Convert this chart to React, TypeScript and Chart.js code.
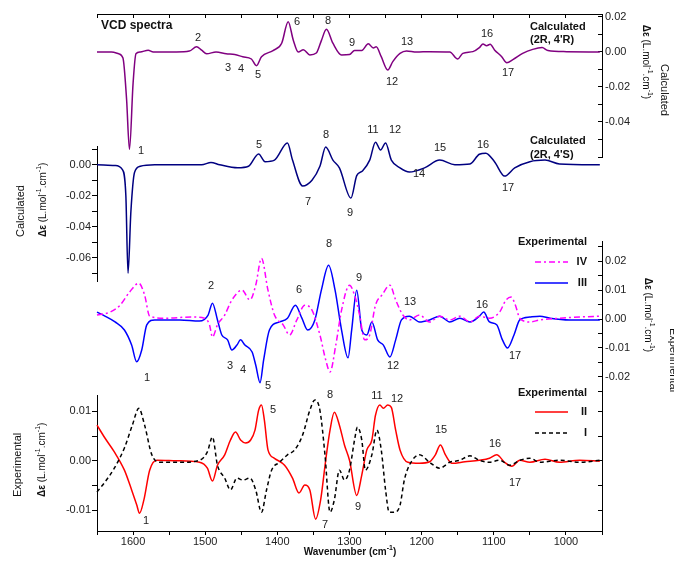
import { useEffect, useRef } from 'react';
import { Chart, registerables } from 'chart.js';

Chart.register(...registerables);

const FONT = '"Liberation Sans", Arial, Helvetica, sans-serif';
const W = 674;
const H = 562;
const PLOT_LEFT = 97;
const PLOT_RIGHT = 602;
const PLOT_BOTTOM = 531;
const LEFT_AXIS_W = 60;
const RIGHT_AXIS_W = 50;
const BOTTOM_AXIS_H = 20;

// ---------------- x axis (wavenumber, cm-1) ----------------
const xTickValues = [1650, 1600, 1550, 1500, 1450, 1400, 1350, 1300, 1250, 1200, 1150, 1100, 1050, 1000, 950];
const xTickLabels = [1600, 1500, 1400, 1300, 1200, 1100, 1000];

// ---------------- Panel 1: Calculated (2R, 4'R) ----------------
const calcRRWn = [1650, 1630, 1620, 1614, 1609, 1605, 1600, 1596, 1590, 1579, 1572, 1540, 1522, 1512, 1505, 1498, 1485, 1471, 1459, 1448, 1436, 1429, 1422, 1406, 1394, 1385, 1378, 1371, 1364, 1355, 1346, 1339, 1332, 1323, 1311, 1300, 1293, 1283, 1274, 1267, 1263, 1256, 1247, 1240, 1230, 1221, 1207, 1189, 1161, 1150, 1143, 1129, 1120, 1115, 1110, 1105, 1099, 1089, 1082, 1073, 1060, 1046, 1033, 1025, 999, 953];
const calcRRDe = [0, 0, -0.001, -0.0035, -0.027, -0.0556, -0.018, -0.001, 0, 0.001, 0, 0, 0.0005, 0.003, 0.001, -0.001, 0, -0.001, -0.0015, -0.0027, -0.004, -0.0078, -0.0027, 0.0008, 0.005, 0.0173, 0.0069, 0, 0.0013, -0.0017, -0.0006, 0.0065, 0.013, 0.005, -0.0017, -0.0015, 0.0009, 0.0009, 0.0047, 0.0023, 0.003, -0.0027, -0.0103, -0.0055, -0.0008, 0.0006, 0, 0.0002, 0, -0.004, -0.0008, 0.0002, 0.0025, 0.0046, 0.0036, 0.0044, 0.0012, -0.0027, -0.0061, -0.0042, -0.0008, 0.0015, 0.0025, 0.0008, 0.0002, 0];

// ---------------- Panel 2: Calculated (2R, 4'S) ----------------
const calcRSWn = [1650, 1625, 1615, 1610, 1607, 1603, 1598, 1590, 1570, 1505, 1492, 1480, 1455, 1440, 1426, 1417, 1404, 1386, 1379, 1365, 1352, 1341, 1333, 1323, 1314, 1298, 1290, 1282, 1272, 1264, 1257, 1250, 1242, 1230, 1217, 1196, 1175, 1154, 1133, 1120, 1111, 1099, 1085, 1071, 1050, 1029, 1009, 953];
const calcRSDe = [0, -0.0005, -0.003, -0.02, -0.07, -0.03, -0.005, -0.001, 0, 0, 0.0015, 0, -0.002, -0.001, 0.007, 0.002, 0.003, 0.014, 0.003, -0.0137, -0.01, -0.001, 0.0114, 0.003, -0.002, -0.0215, -0.007, -0.004, 0.003, 0.0146, 0.0095, 0.014, 0.003, -0.002, -0.0047, -0.002, 0.003, 0, 0.0005, 0.0068, 0.0075, 0.002, -0.0073, -0.002, 0.002, 0.003, 0.0005, 0];

// ---------------- Panel 3: Experimental IV and III ----------------
const expIVWn = [1650, 1632, 1618, 1605, 1592, 1584, 1577, 1556, 1520, 1501, 1494, 1490, 1483, 1473, 1463, 1449, 1438, 1430, 1422, 1413, 1404, 1392, 1383, 1373, 1362, 1352, 1341, 1333, 1327, 1319, 1311, 1300, 1293, 1286, 1279, 1272, 1264, 1255, 1244, 1236, 1226, 1217, 1203, 1189, 1175, 1161, 1147, 1133, 1120, 1106, 1092, 1083, 1076, 1070, 1064, 1050, 1036, 1008, 981, 953];
const expIVDe = [0.0014, 0.0024, 0.0048, 0.0093, 0.0124, 0.0083, 0.001, 0.0003, 0.0007, 0.0003, -0.002, -0.0062, -0.002, 0.0014, 0.0066, 0.01, 0.0066, 0.0117, 0.021, 0.01, 0.0014, -0.002, -0.0055, -0.0003, 0.0048, 0.0031, -0.0055, -0.0141, -0.0183, -0.009, 0.0031, 0.0117, 0.0083, 0.0014, -0.0072, -0.0055, 0.0048, 0.0083, 0.0117, 0.0066, 0.0014, -0.0003, 0.0014, -0.001, 0.001, -0.0003, 0.001, -0.001, 0.001, 0.0003, 0.0024, 0.0066, 0.0076, 0.0048, 0.0003, -0.001, -0.0003, 0.0003, 0.0007, 0.001];

const expIIIWn = [1650, 1639, 1625, 1612, 1602, 1595, 1588, 1581, 1570, 1535, 1508, 1496, 1490, 1483, 1477, 1469, 1463, 1456, 1451, 1445, 1435, 1430, 1424, 1419, 1411, 1397, 1386, 1375, 1366, 1358, 1348, 1339, 1329, 1320, 1311, 1302, 1297, 1290, 1283, 1276, 1269, 1261, 1253, 1244, 1236, 1228, 1217, 1203, 1189, 1175, 1161, 1147, 1133, 1120, 1114, 1106, 1096, 1088, 1081, 1072, 1064, 1050, 1036, 1022, 995, 953];
const expIIIDe = [0.0024, 0.001, -0.001, -0.0038, -0.009, -0.0148, -0.0107, -0.002, -0.0003, -0.0003, -0.0007, 0.0014, 0.0055, -0.0003, -0.0055, -0.0072, -0.0107, -0.009, -0.0072, -0.009, -0.0114, -0.0159, -0.022, -0.0141, -0.0038, -0.001, 0.0003, 0.0048, 0.0003, -0.0038, -0.0003, 0.01, 0.0186, 0.01, -0.0038, -0.0134, -0.0038, 0.01, -0.0038, -0.0055, -0.001, -0.0072, -0.009, -0.0131, -0.0072, -0.0003, 0.001, -0.001, -0.0003, 0.001, -0.001, 0.0003, -0.001, 0.001, 0.0024, -0.001, -0.002, -0.0072, -0.01, -0.0055, -0.0003, 0.0007, 0.001, 0.0003, -0.0003, -0.0003];

// ---------------- Panel 4: Experimental II and I ----------------
const expIIWn = [1650, 1639, 1626, 1612, 1602, 1595, 1591, 1585, 1577, 1567, 1540, 1508, 1497, 1490, 1483, 1473, 1465, 1458, 1451, 1444, 1437, 1431, 1426, 1422, 1418, 1413, 1404, 1390, 1379, 1370, 1362, 1355, 1347, 1340, 1333, 1327, 1321, 1314, 1307, 1300, 1290, 1283, 1276, 1269, 1264, 1258, 1253, 1247, 1242, 1236, 1230, 1219, 1203, 1189, 1181, 1174, 1167, 1158, 1140, 1120, 1106, 1096, 1085, 1075, 1064, 1050, 1029, 1009, 981, 953];
const expIIDe = [0.0072, 0.0046, 0.0018, -0.0019, -0.0059, -0.0089, -0.0106, -0.0079, -0.0019, 0.0001, 0, -0.0003, -0.0015, -0.0041, -0.0009, 0.0012, 0.0042, 0.0058, 0.0042, 0.0036, 0.0042, 0.0062, 0.0102, 0.0113, 0.0082, 0.0022, 0.0005, -0.0009, -0.0035, -0.0065, -0.0049, -0.0059, -0.0118, -0.0079, 0.0001, 0.0062, 0.0098, 0.0072, 0.0032, 0.0001, -0.007, -0.0029, 0.0022, 0.0042, 0.0092, 0.0113, 0.0106, 0.0113, 0.0108, 0.0062, 0.0022, -0.0003, -0.0005, -0.0002, 0.0012, 0.0032, 0.0012, -0.0005, -0.0002, 0.0001, 0.0005, 0.0012, -0.0003, -0.0011, 0.0001, -0.0003, 0.0003, -0.0003, 0.0001, -0.0001];

const expIWn = [1650, 1639, 1626, 1612, 1601, 1592, 1584, 1574, 1563, 1535, 1508, 1497, 1490, 1483, 1473, 1465, 1456, 1448, 1438, 1430, 1422, 1415, 1408, 1397, 1386, 1376, 1365, 1355, 1348, 1341, 1334, 1327, 1321, 1314, 1307, 1300, 1293, 1289, 1283, 1278, 1269, 1262, 1256, 1250, 1245, 1238, 1230, 1224, 1217, 1203, 1189, 1175, 1161, 1147, 1133, 1120, 1106, 1092, 1078, 1064, 1050, 1036, 1009, 981, 953];
const expIDe = [-0.0063, -0.0043, -0.0015, 0.0026, 0.0072, 0.0106, 0.0072, 0.0012, -0.0003, -0.0003, 0.0001, 0.0018, 0.0048, -0.0009, -0.0035, -0.0059, -0.0035, -0.0039, -0.0035, -0.0059, -0.0104, -0.0059, -0.0019, -0.0003, 0.0012, 0.0022, 0.0052, 0.0102, 0.0123, 0.0102, 0.0012, -0.0104, -0.0079, -0.0019, -0.0039, -0.0019, 0.0042, 0.0068, 0.0042, -0.0019, 0.0012, 0.0062, 0.0022, -0.0059, -0.0104, -0.0104, -0.009, -0.0039, -0.0009, 0.0012, -0.0003, -0.0015, -0.0003, 0.0001, 0.001, 0.0001, -0.0003, 0.0001, -0.0009, 0.0001, 0.0005, -0.0003, 0.0001, -0.0003, 0.0001];

// ---------------- y tick values ----------------
const p1Ticks = [0.02, 0.01, 0, -0.01, -0.02, -0.03, -0.04, -0.05, -0.06];
const p1Labels = [0.02, 0, -0.02, -0.04];
const p2Ticks = [0.01, 0, -0.01, -0.02, -0.03, -0.04, -0.05, -0.06, -0.07];
const p2Labels = [0, -0.02, -0.04, -0.06];
const p3Ticks = [0.025, 0.02, 0.015, 0.01, 0.005, 0, -0.005, -0.01, -0.015, -0.02, -0.025];
const p3Labels = [0.02, 0.01, 0, -0.01, -0.02];
const p4Ticks = [0.01, 0.005, 0, -0.005, -0.01];
const p4Labels = [0.01, 0, -0.01];

// ---------------- annotation texts ----------------
const peakNumbers: [string, number, number][] = [
  ['1', 141, 151], ['2', 198, 38], ['3', 228, 68], ['4', 241, 69], ['5', 258, 75], ['6', 297, 22], ['8', 328, 21], ['9', 352, 43], ['12', 392, 82], ['13', 407, 42], ['16', 487, 34], ['17', 508, 73],
  ['5', 259, 145], ['8', 326, 135], ['11', 373, 130], ['12', 395, 130], ['15', 440, 148], ['16', 483, 145], ['7', 308, 202], ['9', 350, 213], ['14', 419, 174], ['17', 508, 188],
  ['2', 211, 286], ['6', 299, 290], ['8', 329, 244], ['9', 359, 278], ['13', 410, 302], ['16', 482, 305], ['1', 147, 378], ['3', 230, 366], ['4', 243, 370], ['5', 268, 386], ['12', 393, 366], ['17', 515, 356],
  ['5', 273, 410], ['8', 330, 395], ['11', 377, 396], ['12', 397, 399], ['15', 441, 430], ['16', 495, 444], ['17', 515, 483], ['1', 146, 521], ['7', 325, 525], ['9', 358, 507],
];

type Seg = { t: string; b?: boolean; sup?: boolean };
const deltaTitle: Seg[] = [{ t: 'Δε', b: true }, { t: ' (L.mol' }, { t: '-1', sup: true }, { t: '.cm' }, { t: '-1', sup: true }, { t: ')' }];

function drawRich(ctx: CanvasRenderingContext2D, segs: Seg[], x: number, y: number, rot: number, align: 'left' | 'center' | 'right', size: number, color = '#111') {
  ctx.save();
  ctx.translate(x, y);
  ctx.rotate(rot);
  const font = (s: Seg) => `${s.b ? 'bold ' : ''}${s.sup ? Math.round(size * 0.7) : size}px ${FONT}`;
  let total = 0;
  for (const s of segs) { ctx.font = font(s); total += ctx.measureText(s.t).width; }
  let cx = align === 'left' ? 0 : align === 'center' ? -total / 2 : -total;
  ctx.textBaseline = 'middle';
  ctx.textAlign = 'left';
  ctx.fillStyle = color;
  for (const s of segs) {
    ctx.font = font(s);
    ctx.fillText(s.t, cx, s.sup ? -size * 0.38 : 0);
    cx += ctx.measureText(s.t).width;
  }
  ctx.restore();
}

const fmt = (v: number) => (Math.abs(v) < 1e-12 ? '0.00' : v.toFixed(2));
const isIn = (arr: number[], v: number) => arr.some((m) => Math.abs(m - v) < 1e-9);
const pts = (xs: number[], ys: number[]) => xs.map((x, i) => ({ x, y: ys[i] }));

function yAxis(position: 'left' | 'right', min: number, max: number, ticks: number[], labels: number[], showLabels: boolean) {
  const left = position === 'left';
  return {
    type: 'linear',
    position,
    min,
    max,
    afterBuildTicks: (s: any) => { s.ticks = ticks.map((v) => ({ value: v })); },
    afterFit: (s: any) => { s.width = left ? LEFT_AXIS_W : RIGHT_AXIS_W; },
    grid: { drawOnChartArea: false, drawTicks: true, tickLength: left ? 5 : -4, tickColor: '#000', tickWidth: 1 },
    border: { display: true, color: '#000', width: 1 },
    ticks: {
      display: showLabels,
      autoSkip: false,
      padding: left ? 1 : 7,
      color: '#222',
      font: { size: 11, family: FONT },
      callback: (v: number) => (isIn(labels, v) ? fmt(v) : ''),
    },
  };
}

function xAxis(kind: 'top' | 'bottom' | 'none') {
  return {
    type: 'linear',
    reverse: true,
    min: 950,
    max: 1650,
    display: kind !== 'none',
    position: kind === 'top' ? 'top' : 'bottom',
    afterBuildTicks: (s: any) => { s.ticks = xTickValues.map((v) => ({ value: v })); },
    afterFit: (s: any) => { s.height = kind === 'bottom' ? BOTTOM_AXIS_H : 0; },
    grid: { drawOnChartArea: false, drawTicks: true, tickLength: kind === 'top' ? -4 : 4, tickColor: '#000' },
    border: { display: true, color: '#000', width: 1 },
    ticks: {
      display: kind === 'bottom',
      autoSkip: false,
      maxRotation: 0,
      padding: 0,
      color: '#222',
      font: { size: 11, family: FONT },
      callback: (v: number) => (isIn(xTickLabels, v) ? String(v) : ''),
    },
  };
}

const textPlugin = {
  id: 'texts',
  afterDraw(chart: any) {
    const ctx: CanvasRenderingContext2D = chart.ctx;
    ctx.save();
    ctx.fillStyle = '#222';
    ctx.textAlign = 'center';
    ctx.textBaseline = 'middle';
    ctx.font = `11px ${FONT}`;
    for (const [t, x, y] of peakNumbers) ctx.fillText(t, x, y);

    const txt = (t: string, x: number, y: number, align: CanvasTextAlign, bold: boolean, size = 11) => {
      ctx.font = `${bold ? 'bold ' : ''}${size}px ${FONT}`;
      ctx.textAlign = align;
      ctx.fillStyle = '#111';
      ctx.fillText(t, x, y);
    };
    txt('VCD spectra', 101, 26, 'left', true, 12);
    txt('Calculated', 530, 27, 'left', true);
    txt("(2R, 4'R)", 530, 40, 'left', true);
    txt('Calculated', 530, 141, 'left', true);
    txt("(2R, 4'S)", 530, 155, 'left', true);
    txt('Experimental', 587, 242, 'right', true);
    txt('IV', 587, 262, 'right', true);
    txt('III', 587, 283, 'right', true);
    txt('Experimental', 587, 393, 'right', true);
    txt('II', 587, 412, 'right', true);
    txt('I', 587, 433, 'right', true);

    const seg = (x1: number, x2: number, y: number, color: string, dash: number[]) => {
      ctx.save();
      ctx.strokeStyle = color;
      ctx.lineWidth = 1.5;
      ctx.setLineDash(dash);
      ctx.beginPath();
      ctx.moveTo(x1, y);
      ctx.lineTo(x2, y);
      ctx.stroke();
      ctx.restore();
    };
    seg(535, 568, 262, '#ff00ff', [6, 3, 2, 3]);
    seg(535, 568, 283, '#0000ff', []);
    seg(535, 568, 412, '#ff0000', []);
    seg(535, 568, 433, '#000000', [4, 3]);

    // axis titles
    drawRich(ctx, deltaTitle, 646, 62, Math.PI / 2, 'center', 10);
    drawRich(ctx, [{ t: 'Calculated' }], 664, 90, Math.PI / 2, 'center', 11);
    drawRich(ctx, [{ t: 'Calculated' }], 21, 237, -Math.PI / 2, 'left', 11);
    drawRich(ctx, deltaTitle, 43, 237, -Math.PI / 2, 'left', 10);
    drawRich(ctx, deltaTitle, 648, 315, Math.PI / 2, 'center', 10);
    drawRich(ctx, [{ t: 'Experimental' }], 673, 360, Math.PI / 2, 'center', 11);
    drawRich(ctx, [{ t: 'Experimental' }], 18, 497, -Math.PI / 2, 'left', 11);
    drawRich(ctx, deltaTitle, 42, 497, -Math.PI / 2, 'left', 10);
    drawRich(ctx, [{ t: 'Wavenumber (cm', b: true }, { t: '-1', b: true, sup: true }, { t: ')', b: true }], 350, 552, 0, 'center', 10);
    ctx.restore();
  },
};

type Panel = {
  top: number;
  bottom: number;
  hasLeft: boolean;
  hasRight: boolean;
  hasBottom: boolean;
  datasets: any[];
  scales: any;
  plugins?: any[];
};

function line(xs: number[], ys: number[], color: string, dash: number[] = [], yAxisID = 'y') {
  return {
    data: pts(xs, ys),
    borderColor: color,
    borderWidth: 1.5,
    borderDash: dash,
    pointRadius: 0,
    cubicInterpolationMode: 'monotone',
    fill: false,
    clip: false,
    yAxisID,
  };
}

const panels: Panel[] = [
  {
    top: 14,
    bottom: 157,
    hasLeft: false,
    hasRight: true,
    hasBottom: false,
    datasets: [line(calcRRWn, calcRRDe, '#800080')],
    scales: { x: xAxis('top'), y: yAxis('right', -0.06, 0.0217, p1Ticks, p1Labels, true) },
  },
  {
    top: 146,
    bottom: 281,
    hasLeft: true,
    hasRight: false,
    hasBottom: false,
    datasets: [line(calcRSWn, calcRSDe, '#000080')],
    scales: { x: xAxis('none'), y: yAxis('left', -0.075, 0.0121, p2Ticks, p2Labels, true) },
  },
  {
    top: 241,
    bottom: 400,
    hasLeft: false,
    hasRight: true,
    hasBottom: false,
    datasets: [line(expIVWn, expIVDe, '#ff00ff', [6, 3, 2, 3]), line(expIIIWn, expIIIDe, '#0000ff')],
    scales: { x: xAxis('none'), y: yAxis('right', -0.028, 0.027, p3Ticks, p3Labels, true) },
  },
  {
    top: 395,
    bottom: PLOT_BOTTOM,
    hasLeft: true,
    hasRight: true,
    hasBottom: true,
    datasets: [line(expIWn, expIDe, '#000000', [4, 3]), line(expIIWn, expIIDe, '#ff0000')],
    scales: {
      x: xAxis('bottom'),
      y: yAxis('left', -0.0142, 0.0133, p4Ticks, p4Labels, true),
      y2: yAxis('right', -0.0142, 0.0133, p4Ticks, p4Labels, false),
    },
    plugins: [textPlugin],
  },
];

export default function App() {
  const r0 = useRef<HTMLCanvasElement>(null);
  const r1 = useRef<HTMLCanvasElement>(null);
  const r2 = useRef<HTMLCanvasElement>(null);
  const r3 = useRef<HTMLCanvasElement>(null);
  const refs = [r0, r1, r2, r3];

  useEffect(() => {
    const charts = panels.map((p, i) =>
      new Chart(refs[i].current as HTMLCanvasElement, {
        type: 'line',
        data: { datasets: p.datasets },
        options: {
          animation: false,
          responsive: false,
          maintainAspectRatio: false,
          devicePixelRatio: 1,
          layout: {
            padding: {
              left: PLOT_LEFT - (p.hasLeft ? LEFT_AXIS_W : 0),
              right: W - PLOT_RIGHT - (p.hasRight ? RIGHT_AXIS_W : 0),
              top: p.top,
              bottom: H - p.bottom - (p.hasBottom ? BOTTOM_AXIS_H : 0),
            },
          },
          scales: p.scales,
          plugins: { legend: { display: false }, tooltip: { enabled: false }, title: { display: false } },
          events: [],
        } as any,
        plugins: p.plugins || [],
      } as any)
    );
    return () => charts.forEach((c) => c.destroy());
  }, []);

  return (
    <div style={{ position: 'absolute', left: 0, top: 0, width: W, height: H, background: '#fff', overflow: 'hidden' }}>
      {refs.map((r, i) => (
        <canvas key={i} ref={r} width={W} height={H} style={{ position: 'absolute', left: 0, top: 0, width: W, height: H }} />
      ))}
    </div>
  );
}
